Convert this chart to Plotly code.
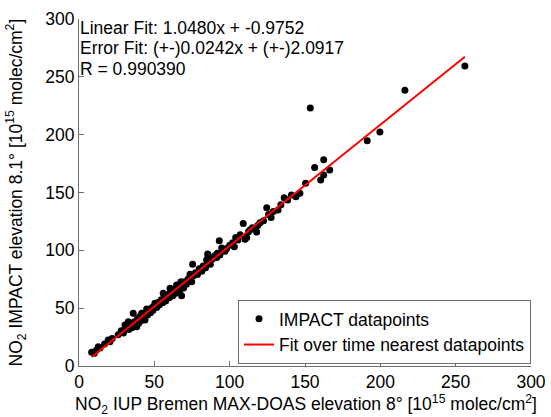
import plotly.graph_objects as go

# MAX-DOAS (IUP Bremen) vs IMPACT NO2 columns, 10^15 molec/cm^2
maxdoas_no2 = [
    8.4, 10.2, 11.5, 12.8, 14.0, 17.0, 19.4, 20.5, 22.0, 26.0, 28.0, 29.5,
    30.5, 31.0, 32.7, 33.0, 34.2, 35.0, 36.0, 36.5, 37.5, 38.3, 38.8, 39.6,
    40.3, 41.0, 41.6, 42.2, 43.0, 43.8, 44.2, 44.9, 45.5, 46.0, 46.3, 47.4,
    48.2, 49.0, 49.3, 50.4, 50.8, 51.6, 52.4, 53.2, 53.7, 54.6, 55.5, 55.9,
    56.7, 57.5, 57.7, 58.6, 59.8, 60.4, 61.0, 62.0, 62.6, 63.2, 64.0, 64.8,
    65.5, 66.8, 67.7, 68.0, 68.1, 69.4, 70.5, 71.3, 72.6, 73.7, 74.0, 74.8,
    75.4, 76.0, 77.3, 78.6, 79.8, 80.3, 81.5, 82.4, 84.0, 84.7, 85.4, 85.4,
    86.0, 87.2, 88.5, 90.0, 91.4, 91.8, 93.1, 93.5, 94.7, 95.5, 96.9, 98.0,
    100.0, 102.0, 103.1, 104.0, 105.5, 107.0, 109.0, 110.2, 111.3, 112.5,
    113.5, 115.0, 117.9, 118.6, 120.1, 122.5, 124.6, 125.8, 127.5, 129.0,
    132.1, 134.0, 136.2, 138.5, 141.0, 144.0, 146.6, 150.4, 153.5, 156.4,
    160.4, 162.4, 162.4, 166.4, 191.3, 199.7, 216.3, 256.1,
]
impact_no2 = [
    11.8, 11.0, 13.6, 16.7, 15.5, 19.0, 22.5, 21.0, 23.8, 27.0, 30.5, 28.6,
    35.4, 33.0, 38.3, 31.5, 36.5, 33.0, 45.5, 38.0, 35.2, 34.0, 40.8, 37.0,
    42.6, 39.1, 45.5, 43.5, 41.6, 39.8, 45.8, 49.3, 44.0, 48.4, 47.6, 46.0,
    50.2, 48.0, 51.3, 54.2, 52.5, 50.5, 55.0, 52.8, 55.6, 57.3, 54.6, 62.8,
    59.5, 56.2, 57.6, 61.5, 59.0, 67.2, 63.8, 60.5, 61.4, 66.5, 63.0, 70.0,
    67.5, 65.3, 72.9, 69.8, 60.8, 67.5, 73.0, 70.6, 75.5, 79.3, 73.6, 72.9,
    87.9, 78.0, 80.6, 79.0, 84.0, 83.0, 82.0, 86.5, 85.0, 91.6, 96.8, 93.1,
    89.8, 88.0, 92.6, 95.4, 93.9, 97.5, 108.3, 96.0, 102.0, 100.8, 99.1, 101.6,
    104.5, 106.5, 103.1, 111.2, 109.0, 113.5, 123.3, 109.5, 111.2, 116.0,
    117.5, 119.6, 115.8, 121.5, 123.9, 125.6, 136.8, 131.0, 128.3, 133.5,
    134.8, 139.5, 145.5, 143.6, 147.8, 146.3, 149.3, 157.9, 223.0, 171.7,
    160.8, 165.1, 178.3, 169.4, 194.7, 202.2, 238.5, 259.3,
]

# Linear fit coefficients
fit_slope = 1.0480
fit_offset = -0.9752
fit_slope_err = 0.0242
fit_offset_err = 2.0917
corr_r = 0.990390

fit_x = [min(maxdoas_no2), max(maxdoas_no2)]
fit_y = [fit_slope * v + fit_offset for v in fit_x]

stats_lines = [
    f"Linear Fit: {fit_slope:.4f}x + {fit_offset:.4f}",
    f"Error Fit: (+-){fit_slope_err:.4f}x + (+-){fit_offset_err:.4f}",
    f"R = {corr_r:.6f}",
]

font_family = "Liberation Sans, Arial, sans-serif"
font_size = 17.5
axis_gray = "#6e6e6e"

fig = go.Figure()
fig.add_trace(go.Scatter(
    x=maxdoas_no2, y=impact_no2, mode="markers",
    name="IMPACT datapoints",
    marker=dict(color="black", size=7, line=dict(width=0)),
))
fig.add_trace(go.Scatter(
    x=fit_x, y=fit_y, mode="lines",
    name="Fit over time nearest datapoints",
    line=dict(color="#ff0000", width=2),
))

# fit statistics in the upper-left corner, one line per annotation
for i, line in enumerate(stats_lines):
    fig.add_annotation(
        xref="paper", yref="paper", x=0.0, y=1.0,
        xanchor="left", yanchor="middle", align="left", showarrow=False,
        xshift=-1, yshift=-8.5 - 20.5 * i,
        text=line,
        font=dict(family=font_family, size=font_size, color="black"),
    )

# axis titles
fig.add_annotation(
    xref="paper", yref="paper", x=0.5, y=0.0, xanchor="center", yanchor="middle",
    xshift=1, yshift=-38, showarrow=False,
    text="NO<sub>2</sub> IUP Bremen MAX-DOAS elevation 8° [10<sup>15</sup> molec/cm<sup>2</sup>]",
    font=dict(family=font_family, size=font_size, color="black"),
)
fig.add_annotation(
    xref="paper", yref="paper", x=0.0, y=0.5, xanchor="center", yanchor="middle",
    xshift=-63, showarrow=False, textangle=-90,
    text="NO<sub>2</sub> IMPACT elevation 8.1° [10<sup>15</sup> molec/cm<sup>2</sup>]",
    font=dict(family=font_family, size=font_size, color="black"),
)

axis_common = dict(
    showgrid=False, zeroline=False, showline=True, linecolor=axis_gray,
    linewidth=1, ticks="inside", ticklen=5, tickcolor=axis_gray,
    tickfont=dict(family=font_family, size=font_size, color="black"),
    range=[0, 300], dtick=50, mirror=False, automargin=False,
)

fig.update_layout(
    width=551, height=417,
    margin=dict(l=79, r=20, t=19, b=51),
    paper_bgcolor="white", plot_bgcolor="white",
    font=dict(family=font_family, size=font_size, color="black"),
    xaxis=dict(**axis_common),
    yaxis=dict(**axis_common),
    legend=dict(
        x=1.0, y=0.006, xanchor="right", yanchor="bottom",
        bordercolor=axis_gray, borderwidth=1, bgcolor="white",
        font=dict(family=font_family, size=font_size, color="black"),
        tracegroupgap=0, itemwidth=30,
    ),
    showlegend=True,
)

fig.write_html("out.html")
